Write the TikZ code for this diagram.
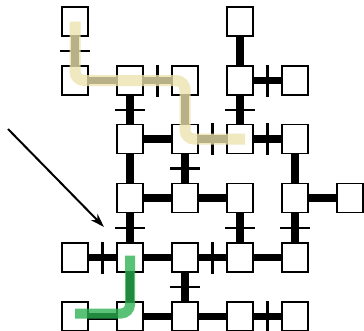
\documentclass[tikz,border=0pt]{standalone}
\usepackage{xcolor}
\usepackage{tikz}
\usetikzlibrary{positioning, backgrounds, arrows.meta}
\definecolor{pathsand}{HTML}{EDE2AE}
\definecolor{pathgreen}{HTML}{2CB252}

\begin{document}
\begin{tikzpicture}[x=1pt, y=-1pt,
  cell/.style={draw, line width=1.2pt, fill=white, minimum width=26pt, minimum height=29pt, inner sep=0pt},
  link/.style={line width=7.5pt, black},
  hbar/.style={fill=black, minimum width=30pt, minimum height=2.2pt, inner sep=0pt},
  vbar/.style={fill=black, minimum width=2.2pt, minimum height=32pt, inner sep=0pt},
  route/.style={line width=11pt, rounded corners=9pt, draw opacity=0.78},
  arr/.style={-{Stealth[length=14pt, width=9pt]}, line width=2pt}
]
  \useasboundingbox (0,0) rectangle (364,330);

  \node[cell] (b00) at (75, 21.5) {};  \node[cell] (b03) at (240, 21.5) {};

  \node[cell] (b10) at (75, 80.5) {};  \node[cell] (b11) at (130, 80.5) {};
  \node[cell] (b12) at (185, 80.5) {}; \node[cell] (b13) at (240, 80.5) {};
  \node[cell] (b14) at (295, 80.5) {};

  \node[cell] (b21) at (130, 139) {};  \node[cell] (b22) at (185, 139) {};
  \node[cell] (b23) at (240, 139) {};  \node[cell] (b24) at (295, 139) {};

  \node[cell] (b31) at (130, 198) {};  \node[cell] (b32) at (185, 198) {};
  \node[cell] (b33) at (240, 198) {};  \node[cell] (b34) at (295, 198) {};
  \node[cell] (b35) at (350, 198) {};

  \node[cell] (b40) at (75, 257.5) {};  \node[cell] (b41) at (130, 257.5) {};
  \node[cell] (b42) at (185, 257.5) {}; \node[cell] (b43) at (240, 257.5) {};
  \node[cell] (b44) at (295, 257.5) {};

  \node[cell] (b50) at (75, 316.5) {};  \node[cell] (b51) at (130, 316.5) {};
  \node[cell] (b52) at (185, 316.5) {}; \node[cell] (b53) at (240, 316.5) {};
  \node[cell] (b54) at (295, 316.5) {};

  \begin{scope}[on background layer]
    \draw[link] (b00) -- node[hbar] {} (b10);
    \draw[link] (b03) -- (b13);
    \draw[link] (b10) -- (b11);
    \draw[link] (b11) -- node[vbar] {} (b12);
    \draw[link] (b13) -- node[vbar] {} (b14);
    \draw[link] (b11) -- node[hbar] {} (b21);
    \draw[link] (b12) -- (b22);
    \draw[link] (b13) -- node[hbar] {} (b23);
    \draw[link] (b21) -- (b22);
    \draw[link] (b22) -- node[vbar] {} (b23);
    \draw[link] (b23) -- node[vbar] {} (b24);
    \draw[link] (b21) -- (b31);
    \draw[link] (b22) -- node[hbar] {} (b32);
    \draw[link] (b24) -- (b34);
    \draw[link] (b31) -- (b32);
    \draw[link] (b32) -- (b33);
    \draw[link] (b34) -- (b35);
    \draw[link] (b31) -- node[hbar] {} (b41);
    \draw[link] (b33) -- node[hbar] {} (b43);
    \draw[link] (b34) -- node[hbar] {} (b44);
    \draw[link] (b40) -- node[vbar] {} (b41);
    \draw[link] (b41) -- (b42);
    \draw[link] (b42) -- node[vbar] {} (b43);
    \draw[link] (b43) -- (b44);
    \draw[link] (b41) -- (b51);
    \draw[link] (b42) -- node[hbar] {} (b52);
    \draw[link] (b50) -- (b51);
    \draw[link] (b51) -- (b52);
    \draw[link] (b52) -- (b53);
    \draw[link] (b53) -- node[vbar] {} (b54);
  \end{scope}

  \draw[route, pathsand] (b00.center) -- (b10.center) -- (b12.center) -- (b22.center) -- ([xshift=5pt]b23.center);
  \draw[route, pathgreen, line width=10pt] ([yshift=2pt]b41.center) -- ([yshift=3pt]b51.center) -- ([yshift=3pt]b50.center);

  \coordinate (tail) at (8, 129);
  \coordinate (head) at (104, 227);
  \draw[arr] (tail) -- (head);
\end{tikzpicture}
\end{document}
